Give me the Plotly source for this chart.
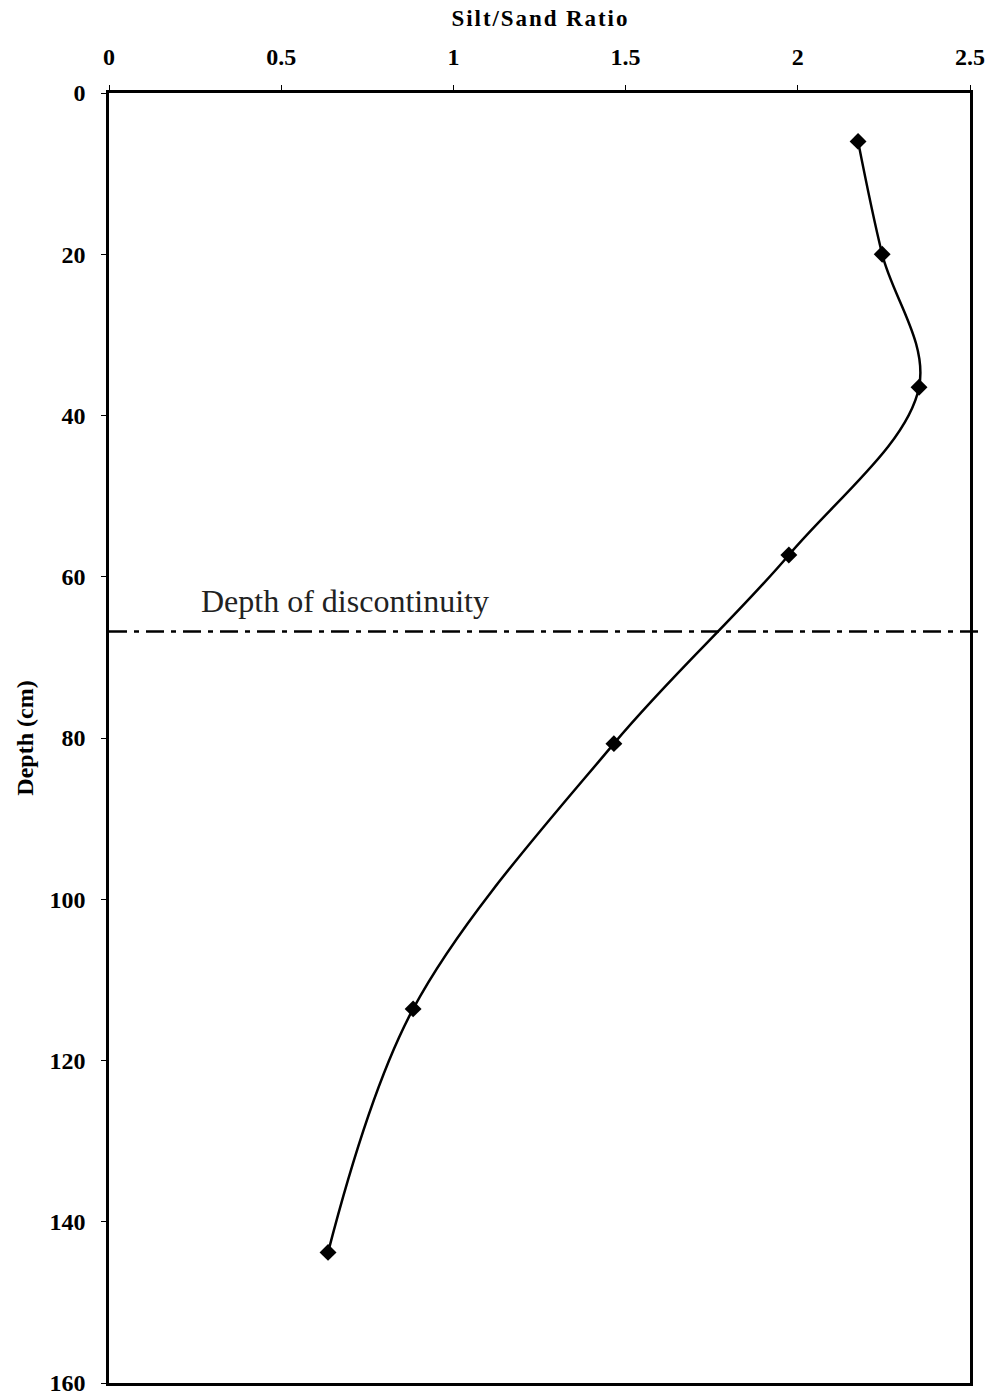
import plotly.graph_objects as go

depth_cm = [6, 20, 36.5, 57.3, 80.7, 113.6, 143.8]
silt_sand_ratio = [2.175, 2.245, 2.352, 1.974, 1.466, 0.883, 0.636]
x_ticks = [0, 0.5, 1, 1.5, 2, 2.5]
x_tick_labels = ["0", "0.5", "1", "1.5", "2", "2.5"]
y_ticks = [0, 20, 40, 60, 80, 100, 120, 140, 160]
discontinuity_depth = 66.8

SERIF = "Liberation Serif, Times New Roman, serif"

fig = go.Figure()
fig.add_trace(go.Scatter(
    x=silt_sand_ratio, y=depth_cm, mode="lines+markers",
    line=dict(color="black", width=2.5, shape="spline", smoothing=1.0),
    marker=dict(symbol="diamond", size=13, color="black"),
    showlegend=False,
))

fig.add_shape(type="line", xref="paper", yref="y", x0=0, x1=1.012,
              y0=discontinuity_depth, y1=discontinuity_depth,
              line=dict(color="black", width=2.5, dash="18px,7px,5px,7px"))
fig.add_annotation(text="Depth of discontinuity", xref="x", yref="y",
                   x=0.262, y=discontinuity_depth - 1.3, xanchor="left", yanchor="bottom",
                   showarrow=False,
                   font=dict(family=SERIF, size=32, color="#222"))

font_b = dict(family=SERIF, size=24, color="black")
hs = "\u200a"
x_title = hs.join(list("Silt/Sand Ratio"))
fig.update_layout(
    width=993, height=1398,
    margin=dict(l=109, r=23, t=93, b=15),
    paper_bgcolor="white", plot_bgcolor="white",
    xaxis=dict(side="top", range=[0, 2.5], tickvals=x_ticks, ticktext=[f"<b>{t}</b>" for t in x_tick_labels],
               tickfont=font_b, showgrid=False, zeroline=False, automargin=False,
               ticklabeloverflow="allow",
               showline=True, linecolor="black", linewidth=2.5, mirror=True,
               ticks="outside", ticklen=5, tickcolor="black", ticklabelstandoff=11,
               title=dict(text=f"<b>{x_title}</b>", standoff=11,
                          font=dict(family=SERIF, size=23, color="black"))),
    yaxis=dict(range=[160, 0], tickvals=y_ticks, ticktext=[f"<b>{t}</b>" for t in y_ticks],
               tickfont=font_b, showgrid=False, zeroline=False, automargin=False,
               ticklabeloverflow="allow",
               showline=True, linecolor="black", linewidth=2.5, mirror=True,
               ticks="outside", ticklen=5, tickcolor="black", ticklabelstandoff=11,
               title=dict(text="<b>Depth (cm)</b>", standoff=10,
                          font=dict(family=SERIF, size=24, color="black"))),
)

fig.write_html("out.html")
